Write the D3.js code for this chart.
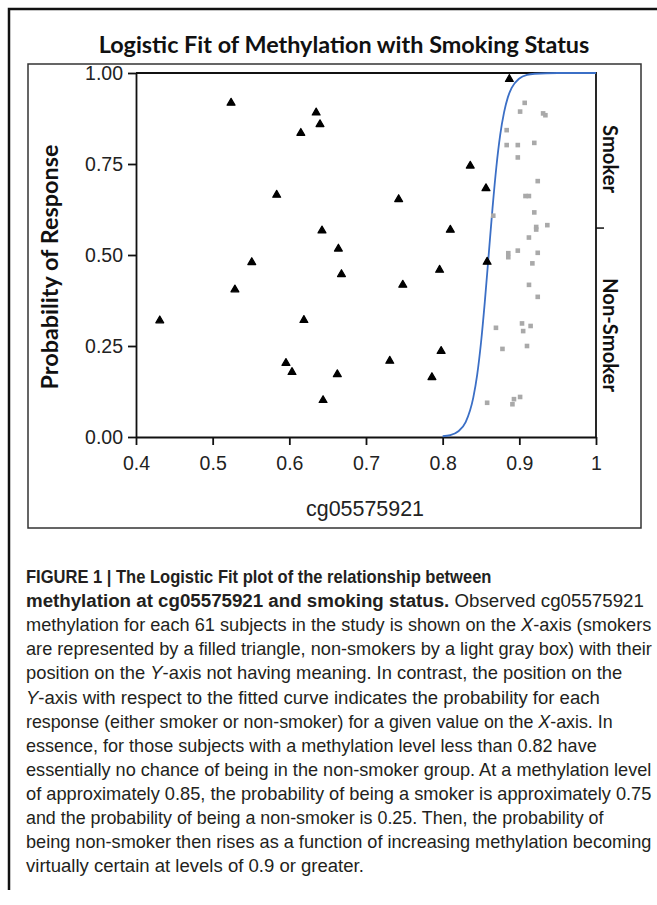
<!DOCTYPE html>
<html><head><meta charset="utf-8">
<script src="https://cdn.jsdelivr.net/npm/d3@7"></script>
<style>body{margin:0;background:#fff}svg{display:block}</style>
</head><body>
<svg id="c" width="657" height="905"></svg>
<script>
// ---- data ----
const smokerX = [0.524,0.635,0.640,0.615,0.5835,0.6426,0.664,0.551,0.668,0.529,0.431,0.619,0.5956,0.6035,0.6626,0.644,0.887,0.836,0.8565,0.7426,0.810,0.858,0.796,0.748,0.798,0.731,0.786];
const smokerY = [0.918,0.891,0.859,0.835,0.665,0.567,0.517,0.480,0.447,0.405,0.320,0.321,0.203,0.178,0.172,0.101,0.983,0.745,0.683,0.653,0.569,0.481,0.459,0.418,0.236,0.209,0.164];
const nonSmokerX = [0.907,0.901,0.931,0.934,0.8835,0.8835,0.898,0.9195,0.898,0.924,0.908,0.9125,0.866,0.9195,0.922,0.922,0.9365,0.9125,0.8856,0.8856,0.898,0.924,0.917,0.9126,0.924,0.8695,0.9035,0.905,0.9147,0.878,0.910,0.858,0.893,0.901,0.891];
const nonSmokerY = [0.918,0.894,0.889,0.884,0.843,0.802,0.802,0.808,0.768,0.703,0.662,0.662,0.608,0.617,0.577,0.570,0.582,0.548,0.505,0.494,0.512,0.506,0.477,0.418,0.385,0.300,0.312,0.291,0.305,0.242,0.250,0.094,0.104,0.110,0.090];
const curveX = [0.800,0.810,0.820,0.830,0.840,0.845,0.850,0.855,0.860,0.865,0.870,0.875,0.880,0.885,0.890,0.900,0.910,0.920,0.950,1.000];
const curveP = [0.002,0.005,0.015,0.041,0.109,0.171,0.259,0.372,0.500,0.628,0.741,0.829,0.891,0.933,0.959,0.985,0.995,0.998,1.000,1.000];
const yTicks = [0,0.25,0.5,0.75,1];
const yTickLabels = ["0.00","0.25","0.50","0.75","1.00"];
const xTicks = [0.4,0.5,0.6,0.7,0.8,0.9,1.0];
const xTickLabels = ["0.4","0.5","0.6","0.7","0.8","0.9","1"];
const splitValue = 0.574;
const rightLabels = ["Smoker","Non-Smoker"];
const titleText = "Logistic Fit of Methylation with Smoking Status";
const yLabelText = "Probability of Response";
const xLabelText = "cg05575921";
const captionLines = [
  [["FIGURE 1 | The Logistic Fit plot of the relationship between","b"]],
  [["methylation at cg05575921 and smoking status.","b"],[" Observed cg05575921",""]],
  [["methylation for each 61 subjects in the study is shown on the ",""],["X","i"],["-axis (smokers",""]],
  [["are represented by a filled triangle, non-smokers by a light gray box) with their",""]],
  [["position on the ",""],["Y","i"],["-axis not having meaning. In contrast, the position on the",""]],
  [["Y","i"],["-axis with respect to the fitted curve indicates the probability for each",""]],
  [["response (either smoker or non-smoker) for a given value on the ",""],["X","i"],["-axis. In",""]],
  [["essence, for those subjects with a methylation level less than 0.82 have",""]],
  [["essentially no chance of being in the non-smoker group. At a methylation level",""]],
  [["of approximately 0.85, the probability of being a smoker is approximately 0.75",""]],
  [["and the probability of being a non-smoker is 0.25. Then, the probability of",""]],
  [["being non-smoker then rises as a function of increasing methylation becoming",""]],
  [["virtually certain at levels of 0.9 or greater.",""]]
];
const captionRight = [492,644,652,652,623,600,613,597,652,652,604,652,364];

// ---- drawing ----
const svg = d3.select("#c");
const x = d3.scaleLinear().domain([0.4,1]).range([136,596]);
const y = d3.scaleLinear().domain([0,1]).range([437,73]);

function fitWidth(t, w){
  const n = t.node().getComputedTextLength();
  const fs = parseFloat(t.attr("font-size"));
  t.attr("font-size", fs*w/n);
}

// outer frame
svg.append("path").attr("d","M9,890V9H657").attr("fill","none").attr("stroke","#111").attr("stroke-width",2.5);
// inner frame
svg.append("rect").attr("x",28).attr("y",64).attr("width",613).attr("height",464)
  .attr("fill","none").attr("stroke","#333").attr("stroke-width",1.5);

// title
const title = svg.append("text").attr("x",344).attr("y",53).attr("text-anchor","middle")
  .attr("font-family","Lato, 'Open Sans', sans-serif").attr("font-weight",700).attr("font-size",21)
  .attr("fill","#111").text(titleText);
fitWidth(title, 491);

// plot box top/right
svg.append("path").attr("d",`M${x(0.4)},${y(1)}H${x(1)}V${y(0)}`).attr("fill","none")
  .attr("stroke","#111").attr("stroke-width",1.8);
// right tick
svg.append("line").attr("x1",x(1)).attr("x2",x(1)+8).attr("y1",y(splitValue)).attr("y2",y(splitValue))
  .attr("stroke","#111").attr("stroke-width",1.5);

// axes
const axL = svg.append("g").attr("transform",`translate(${x(0.4)},0)`)
  .call(d3.axisLeft(y).tickValues(yTicks).tickFormat((d,i)=>yTickLabels[i]).tickSize(8).tickSizeOuter(0).tickPadding(5));
const axB = svg.append("g").attr("transform",`translate(0,${y(0)})`)
  .call(d3.axisBottom(x).tickValues(xTicks).tickFormat((d,i)=>xTickLabels[i]).tickSize(8).tickSizeOuter(0).tickPadding(11));
[axL,axB].forEach(a=>{
  a.selectAll("path,line").attr("stroke","#111").attr("stroke-width",1.8);
  a.selectAll("text").attr("font-family","'Liberation Sans', Arial, sans-serif").attr("font-size",19.5).attr("fill","#222");
});

// curve
const line = d3.line().x((d,i)=>x(curveX[i])).y((d,i)=>y(curveP[i])).curve(d3.curveMonotoneX);
svg.append("path").attr("d",line(curveX)).attr("fill","none").attr("stroke","#3b6fc6").attr("stroke-width",1.8);

// non-smokers (gray boxes)
svg.append("g").selectAll("rect").data(nonSmokerX).join("rect")
  .attr("x",(d)=>x(d)-2.3).attr("y",(d,i)=>y(nonSmokerY[i])-2.3)
  .attr("width",4.6).attr("height",4.6).attr("fill","#a9a9a9");

// smokers (triangles)
const tri = d3.symbol().type(d3.symbolTriangle).size(27);
svg.append("g").selectAll("path").data(smokerX).join("path")
  .attr("d",tri).attr("transform",(d,i)=>`translate(${x(d)},${y(smokerY[i])})`)
  .attr("fill","#000").attr("stroke","#000").attr("stroke-width",1.2).attr("stroke-linejoin","round");

// y label
const yl = svg.append("g").attr("transform","translate(58,267) rotate(-90)")
  .append("text").attr("text-anchor","middle").attr("font-family","Lato, 'Open Sans', sans-serif")
  .attr("font-weight",700).attr("font-size",20).attr("fill","#111").text(yLabelText);
fitWidth(yl, 245);

// x label
const xl = svg.append("text").attr("x",365).attr("y",516).attr("text-anchor","middle")
  .attr("font-family","'Liberation Sans', Arial, sans-serif").attr("font-size",21).attr("fill","#222").text(xLabelText);
fitWidth(xl, 118);

// right labels
const rl = [[159,68],[335,114]];
rightLabels.forEach((t,i)=>{
  const tx = svg.append("g").attr("transform",`translate(603,${rl[i][0]}) rotate(90)`)
    .append("text").attr("text-anchor","middle").attr("font-family","Lato, 'Open Sans', sans-serif")
    .attr("font-weight",700).attr("font-size",20).attr("fill","#111").text(t);
  fitWidth(tx, rl[i][1]);
});

// caption
captionLines.forEach((segs,i)=>{
  const g = svg.append("g");
  const t = g.append("text").attr("x",0).attr("y",0).attr("font-family","'Liberation Sans Narrow', 'Liberation Sans', sans-serif")
    .attr("font-size",18).attr("fill","#231f20").style("white-space","pre");
  segs.forEach(s=>{
    const ts = t.append("tspan").text(s[0]);
    if (s[1]==="b") ts.attr("font-weight",700);
    if (s[1]==="i") ts.attr("font-style","italic");
  });
  const n = t.node().getComputedTextLength();
  const sx = (captionRight[i]-26)/n;
  g.attr("transform",`translate(26,${583+24.1*i}) scale(${sx},1)`);
});
</script>
</body></html>
